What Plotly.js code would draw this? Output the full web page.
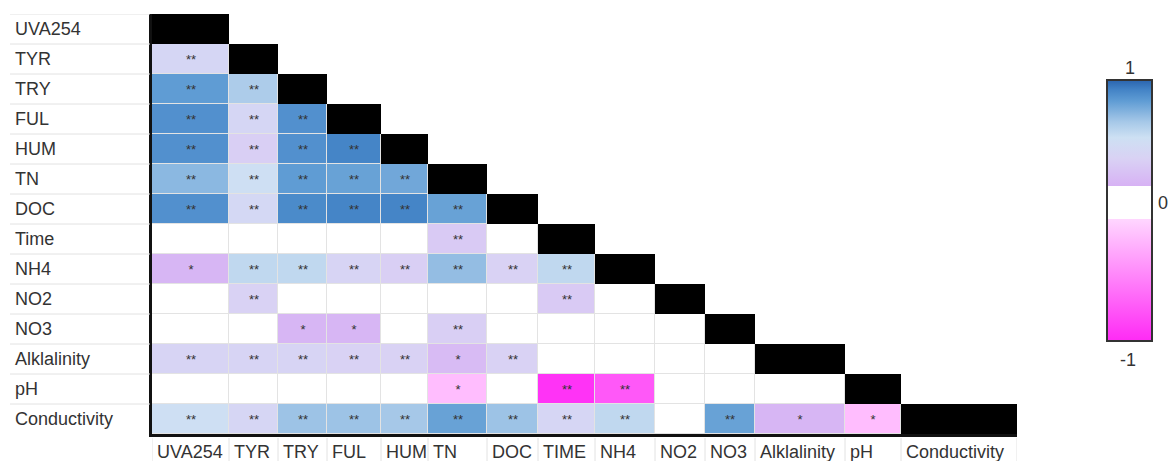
<!DOCTYPE html>
<html>
<head>
<meta charset="utf-8">
<script src="https://cdn.plot.ly/plotly-3.0.1.min.js"></script>
<style>html,body{margin:0;padding:0;background:#fff;}#chart{width:1173px;height:461px;}</style>
</head>
<body>
<div id="chart"></div>
<script>
// ---------- data ----------
const rowLabels = ['UVA254','TYR','TRY','FUL','HUM','TN','DOC','Time','NH4','NO2','NO3','Alklalinity','pH','Conductivity'];
const colLabels = ['UVA254','TYR','TRY','FUL','HUM','TN','DOC','TIME','NH4','NO2','NO3','Alklalinity','pH','Conductivity'];

// lower-triangle correlation values (row i, columns 0..i-1); 0 = not significant
const corrUVA254 = [];
const corrTYR = [0.45];
const corrTRY = [0.84, 0.66];
const corrFUL = [0.88, 0.45, 0.88];
const corrHUM = [0.88, 0.38, 0.88, 0.92];
const corrTN = [0.74, 0.55, 0.84, 0.82, 0.80];
const corrDOC = [0.88, 0.47, 0.90, 0.92, 0.92, 0.82];
const corrTime = [0, 0, 0, 0, 0, 0.35, 0];
const corrNH4 = [0.22, 0.60, 0.60, 0.42, 0.38, 0.72, 0.40, 0.60];
const corrNO2 = [0, 0.40, 0, 0, 0, 0, 0, 0.35, 0];
const corrNO3 = [0, 0, 0.22, 0.22, 0, 0.38, 0, 0, 0, 0];
const corrAlk = [0.42, 0.42, 0.42, 0.40, 0.40, 0.25, 0.40, 0, 0, 0, 0];
const corrPH = [0, 0, 0, 0, 0, -0.20, 0, -0.95, -0.75, 0, 0, 0];
const corrCond = [0.55, 0.44, 0.70, 0.70, 0.68, 0.82, 0.70, 0.44, 0.60, 0, 0.82, 0.22, -0.20];

// significance marks
const sigUVA254 = [];
const sigTYR = ['**'];
const sigTRY = ['**','**'];
const sigFUL = ['**','**','**'];
const sigHUM = ['**','**','**','**'];
const sigTN = ['**','**','**','**','**'];
const sigDOC = ['**','**','**','**','**','**'];
const sigTime = ['','','','','','**',''];
const sigNH4 = ['*','**','**','**','**','**','**','**'];
const sigNO2 = ['','**','','','','','','**',''];
const sigNO3 = ['','','*','*','','**','','','',''];
const sigAlk = ['**','**','**','**','**','*','**','','','',''];
const sigPH = ['','','','','','*','','**','**','','',''];
const sigCond = ['**','**','**','**','**','**','**','**','**','','**','*','*'];

const corrRows = [corrUVA254,corrTYR,corrTRY,corrFUL,corrHUM,corrTN,corrDOC,corrTime,corrNH4,corrNO2,corrNO3,corrAlk,corrPH,corrCond];
const sigRows = [sigUVA254,sigTYR,sigTRY,sigFUL,sigHUM,sigTN,sigDOC,sigTime,sigNH4,sigNO2,sigNO3,sigAlk,sigPH,sigCond];

// ---------- layout constants ----------
const colWidths = [77,49,49,54,47,59,51,57,60,50,50,90,56,116]; // relative column widths
const edges = [0];
colWidths.forEach(w => edges.push(edges[edges.length-1] + w));
const total = edges[edges.length-1];
const n = rowLabels.length;
const yIdx = rowLabels.map((_, i) => i);

const W = 1173, H = 461;
const M = {l:152, r:156, t:14, b:27};
const PW = W - M.l - M.r, PH = H - M.t - M.b;
const px2paperX = px => (px - M.l) / PW;
const px2paperY = py => (H - M.b - py) / PH;

const WHITE_LO = -0.065, WHITE_HI = 0.19;
const t = v => (v + 1) / 2;
const colorscale = [
  [0, '#ff2af5'],
  [t(WHITE_LO) - 0.0005, '#ffd6ff'],
  [t(WHITE_LO), '#ffffff'],
  [t(WHITE_HI), '#ffffff'],
  [t(WHITE_HI) + 0.0005, '#d7b2f4'],
  [t(0.40), '#d9d2f4'],
  [t(0.56), '#cde0f3'],
  [t(0.68), '#a6c8e8'],
  [t(0.84), '#5f9cd4'],
  [t(0.92), '#4585c7'],
  [1, '#2a64ae']
];

// ---------- build matrices ----------
const zMain = [], tMain = [], zBase = [], zDiag = [];
for (let i = 0; i < n; i++) {
  const rz = [], rt = [], rb = [], rd = [];
  for (let j = 0; j < n; j++) {
    if (j < i) { rz.push(corrRows[i][j]); rt.push(sigRows[i][j]); }
    else { rz.push(null); rt.push(''); }
    rb.push(j <= i ? 1 : null);
    rd.push(j === i ? 1 : null);
  }
  zMain.push(rz); tMain.push(rt); zBase.push(rb); zDiag.push(rd);
}

const cbTopPx = 80, cbLenPx = 261, cbLeftPx = 1107, cbThick = 45;

const traces = [
  { type:'heatmap', x: edges, y: yIdx, z: zBase, colorscale:[[0,'#e3e3e3'],[1,'#e3e3e3']],
    showscale:false, hoverinfo:'skip', zmin:0, zmax:1 },
  { type:'heatmap', x: edges, y: yIdx, z: zMain, text: tMain, texttemplate:'%{text}',
    textfont:{size:13, color:'#333', family:'Liberation Sans, Arial, sans-serif'},
    colorscale: colorscale, zmin:-1, zmax:1, xgap:1, ygap:1, hoverinfo:'skip',
    colorbar:{ x: px2paperX(cbLeftPx), xanchor:'left', y: px2paperY(cbTopPx), yanchor:'top',
      len: cbLenPx, lenmode:'pixels', thickness: cbThick, thicknessmode:'pixels',
      xpad:0, ypad:0, outlinewidth:2, outlinecolor:'#333', showticklabels:false, ticks:'' } },
  { type:'heatmap', x: edges, y: yIdx, z: zDiag, colorscale:[[0,'#000'],[1,'#000']],
    showscale:false, hoverinfo:'skip', zmin:0, zmax:1 }
];

const labelFont = {family:'Liberation Sans, Arial, sans-serif', size:18, color:'#333'};
const annotations = [];
const shapes = [];

rowLabels.forEach((lab, i) => {
  annotations.push({ text: lab, xref:'paper', yref:'y', x: px2paperX(13), y: i,
    xanchor:'left', yanchor:'middle', showarrow:false, font: labelFont });
  shapes.push({ type:'line', xref:'paper', yref:'y', x0: px2paperX(10), x1: px2paperX(150),
    y0: i - 0.5, y1: i - 0.5, line:{color:'#e2e2e2', width:1} });
});
colLabels.forEach((lab, j) => {
  annotations.push({ text: lab, xref:'x', yref:'paper', x: edges[j] + 3, y: px2paperY(452),
    xanchor:'left', yanchor:'middle', showarrow:false, font: labelFont });
});
edges.forEach(e => {
  shapes.push({ type:'line', xref:'x', yref:'paper', x0: e, x1: e,
    y0: px2paperY(438), y1: px2paperY(461), line:{color:'#e2e2e2', width:1} });
});

// colorbar labels
const cbVal2Px = v => cbTopPx + (1 - v) / 2 * cbLenPx;
annotations.push({ text:'1', xref:'paper', yref:'paper', x: px2paperX(cbLeftPx + cbThick/2), y: px2paperY(68),
  xanchor:'center', yanchor:'middle', showarrow:false, font: labelFont });
annotations.push({ text:'-1', xref:'paper', yref:'paper', x: px2paperX(cbLeftPx + cbThick/2 - 2), y: px2paperY(360),
  xanchor:'center', yanchor:'middle', showarrow:false, font: labelFont });
annotations.push({ text:'0', xref:'paper', yref:'paper', x: px2paperX(1163), y: px2paperY(cbVal2Px(0.06)),
  xanchor:'center', yanchor:'middle', showarrow:false, font: labelFont });
[WHITE_HI, WHITE_LO].forEach(v => {
  shapes.push({ type:'line', xref:'paper', yref:'paper', x0: px2paperX(cbLeftPx), x1: px2paperX(cbLeftPx + cbThick),
    y0: px2paperY(cbVal2Px(v)), y1: px2paperY(cbVal2Px(v)), line:{color:'#333', width:2} });
});

const layout = {
  width: W, height: H, margin: M,
  paper_bgcolor:'#fff', plot_bgcolor:'#fff',
  showlegend:false,
  xaxis:{ range:[0, total], showgrid:false, zeroline:false, showticklabels:false, ticks:'',
    showline:true, linecolor:'#111', linewidth:3, fixedrange:true },
  yaxis:{ range:[n - 0.5, -0.5], showgrid:false, zeroline:false, showticklabels:false, ticks:'',
    showline:true, linecolor:'#111', linewidth:3, fixedrange:true },
  annotations: annotations, shapes: shapes
};

Plotly.newPlot('chart', traces, layout, {staticPlot:true, displayModeBar:false});
</script>
</body>
</html>
